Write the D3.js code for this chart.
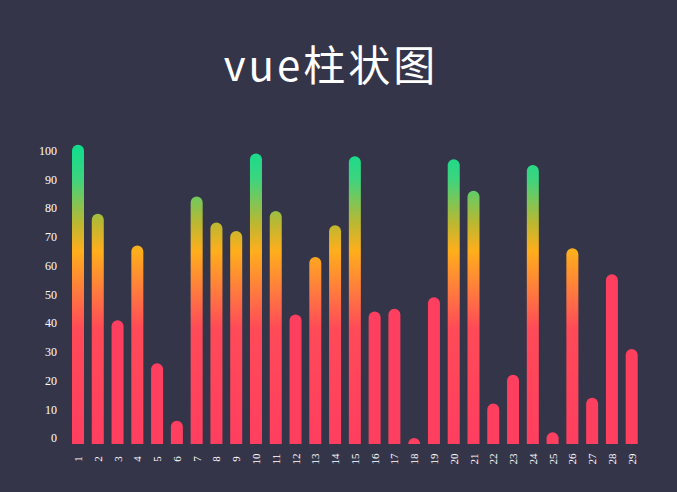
<!DOCTYPE html>
<html>
<head>
<meta charset="utf-8">
<script src="https://cdn.jsdelivr.net/npm/d3@7"></script>
<style>
  html, body { margin: 0; padding: 0; background: #35354a; }
  svg { display: block; }
</style>
</head>
<body>
<div id="chart-area"></div>
<script>
// datos
var categories = d3.range(1, 30).map(String);
var values = [102, 78, 41, 67, 26, 6, 84, 75, 72, 99, 79, 43, 63, 74, 98,
              44, 45, 0, 49, 97, 86, 12, 22, 95, 2, 66, 14, 57, 31];
var yTicks = [0, 10, 20, 30, 40, 50, 60, 70, 80, 90, 100];
var title = "vue柱状图";

var width = 677, height = 492;
var baseY = 444, barW = 12;

var svg = d3.select("#chart-area")
    .append("svg")
    .attr("width", width)
    .attr("height", height);

svg.append("rect")
    .attr("width", width)
    .attr("height", height)
    .attr("fill", "#35354a");

var xScale = d3.scalePoint()
    .domain(categories)
    .range([78, 631.7]);

var yScale = d3.scaleLinear()
    .domain([0, 100])
    .range([438, 150.5]);

// degradado en coordenadas absolutas (verde arriba, rosa abajo)
var defs = svg.append("defs");
var grad = defs.append("linearGradient")
    .attr("id", "bar-gradient")
    .attr("gradientUnits", "userSpaceOnUse")
    .attr("x1", 0).attr("x2", 0)
    .attr("y1", yScale(0)).attr("y2", yScale(100));

[[0, "#ff3f5f"], [0.38, "#ff4a58"], [0.49, "#ff7343"], [0.65, "#ffae1c"],
 [0.75, "#b9b832"], [0.9, "#3ed47e"], [1, "#14dc8c"]].forEach(function(s) {
    grad.append("stop")
        .attr("offset", (s[0] * 100) + "%")
        .attr("stop-color", s[1]);
});

// título
svg.append("text")
    .attr("x", 331)
    .attr("y", 62)
    .attr("text-anchor", "middle")
    .attr("dominant-baseline", "central")
    .attr("fill", "#ffffff")
    .style("font-family", "'Noto Sans CJK SC', 'Noto Sans', sans-serif")
    .style("font-size", "42px")
    .style("letter-spacing", "3px")
    .text(title);

// eje Y (solo etiquetas)
var yAxis = svg.append("g")
    .attr("transform", "translate(57,0)")
    .call(d3.axisLeft(yScale).tickValues(yTicks).tickSize(0).tickPadding(0));
yAxis.select(".domain").remove();
yAxis.selectAll("text")
    .attr("fill", "#ffffff")
    .style("font-family", "'Liberation Serif', serif")
    .style("font-size", "12px");

// eje X (etiquetas giradas)
var xAxis = svg.append("g")
    .attr("transform", "translate(0,459)")
    .call(d3.axisBottom(xScale).tickSize(0).tickPadding(0));
xAxis.select(".domain").remove();
xAxis.selectAll("text")
    .attr("x", 0)
    .attr("y", 0)
    .attr("dy", "0.32em")
    .attr("text-anchor", "middle")
    .attr("transform", "rotate(-90)")
    .attr("fill", "#ffffff")
    .style("font-family", "'Liberation Serif', serif")
    .style("font-size", "11px");

// barras con tapa redondeada
var r = barW / 2;
svg.selectAll("path.bar")
    .data(values)
    .enter().append("path")
    .attr("class", "bar")
    .attr("d", function(d, i) {
        var cx = xScale(categories[i]);
        var top = yScale(d);
        return "M" + (cx - r) + "," + baseY +
               "V" + (top + r) +
               "A" + r + "," + r + " 0 0 1 " + (cx + r) + "," + (top + r) +
               "V" + baseY + "Z";
    })
    .attr("fill", function(d) { return d >= 60 ? "url(#bar-gradient)" : "#ff3f5f"; });
</script>
</body>
</html>
